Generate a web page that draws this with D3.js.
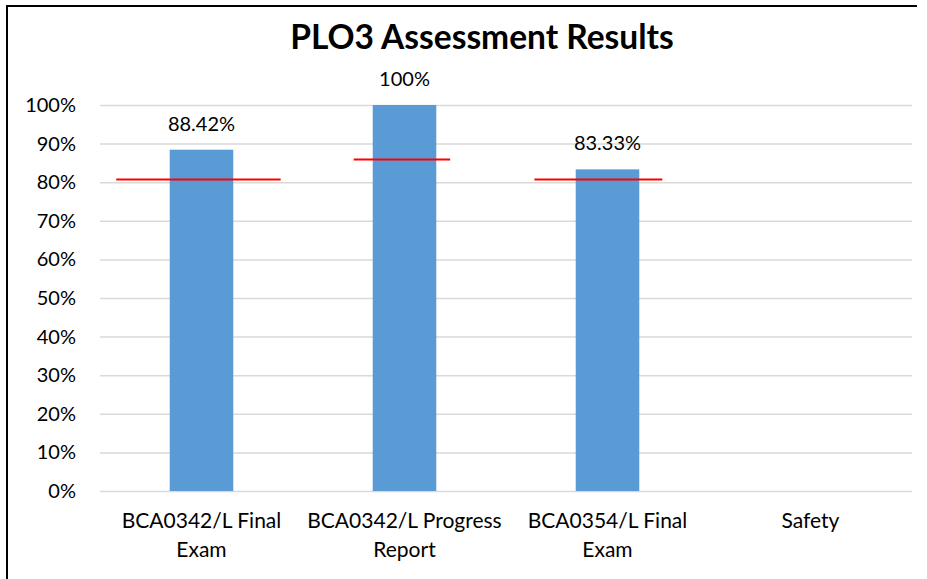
<!DOCTYPE html>
<html>
<head>
<meta charset="utf-8">
<script src="https://cdn.jsdelivr.net/npm/d3@7"></script>
<style>
  body { margin: 0; background: #fff; }
  text { font-family: Lato, sans-serif; fill: #000; }
</style>
</head>
<body>
<script>
var categories = [["BCA0342/L Final", "Exam"], ["BCA0342/L Progress", "Report"], ["BCA0354/L Final", "Exam"], ["Safety"]];
var results = [88.42, 100, 83.33, null];
var resultLabels = ["88.42%", "100%", "83.33%", null];
// red target marks: value, and extent in category units around each category centre
var targets = [80.7, 85.9, 80.7];
var targetFrom = [-0.42, -0.25, -0.36];
var targetTo = [0.39, 0.225, 0.27];
var yTicks = [0, 10, 20, 30, 40, 50, 60, 70, 80, 90, 100];

var width = 927, height = 579;
var plotLeft = 100, plotRight = 912, plotTop = 105, plotBottom = 491;

var svg = d3.select("body").append("svg")
  .attr("width", width)
  .attr("height", height);

// frame (only left + top visible in the crop)
svg.append("path")
  .attr("d", "M7,579 V6 H917")
  .attr("fill", "none")
  .attr("stroke", "#000")
  .attr("stroke-width", 2);

svg.append("text")
  .attr("x", 482)
  .attr("y", 49)
  .attr("text-anchor", "middle")
  .style("font-weight", "bold")
  .style("font-size", "33.5px")
  .text("PLO3 Assessment Results");

var x = d3.scaleBand().domain(d3.range(categories.length)).range([plotLeft, plotRight]).padding(0);
var xc = d3.scaleLinear().domain([0, 1]).range([x(0) + x.bandwidth() / 2, x(1) + x.bandwidth() / 2]);
var y = d3.scaleLinear().domain([0, 100]).range([plotBottom, plotTop]);

var yAxis = d3.axisLeft(y).tickValues(yTicks).tickFormat(function (d) { return d + "%"; })
  .tickSize(-(plotRight - plotLeft)).tickPadding(24);

var gy = svg.append("g").attr("transform", "translate(" + plotLeft + ",0)").call(yAxis);
gy.select(".domain").remove();
gy.selectAll(".tick line").attr("stroke", "#d9d9d9").attr("stroke-width", 1.5);
gy.selectAll(".tick text").style("font-size", "20px").attr("fill", "#000");

var barW = x.bandwidth() * 0.313;

svg.selectAll(".bar")
  .data(results.map(function (v, i) { return { v: v, i: i }; }).filter(function (d) { return d.v != null; }))
  .enter().append("rect")
  .attr("class", "bar")
  .attr("x", function (d) { return xc(d.i) - barW / 2; })
  .attr("y", function (d) { return y(d.v); })
  .attr("width", barW)
  .attr("height", function (d) { return y(0) - y(d.v); })
  .attr("fill", "#5b9bd5");

svg.selectAll(".target")
  .data(targets)
  .enter().append("line")
  .attr("class", "target")
  .attr("x1", function (d, i) { return xc(i + targetFrom[i]); })
  .attr("x2", function (d, i) { return xc(i + targetTo[i]); })
  .attr("y1", function (d) { return y(d); })
  .attr("y2", function (d) { return y(d); })
  .attr("stroke", "#ff0000")
  .attr("stroke-width", 2);

svg.selectAll(".vlabel")
  .data(results.map(function (v, i) { return { v: v, i: i }; }).filter(function (d) { return d.v != null; }))
  .enter().append("text")
  .attr("class", "vlabel")
  .attr("x", function (d) { return xc(d.i); })
  .attr("y", function (d) { return y(d.v) - 19; })
  .attr("text-anchor", "middle")
  .style("font-size", "20px")
  .text(function (d) { return resultLabels[d.i]; });

var cl = svg.selectAll(".cat")
  .data(categories)
  .enter().append("text")
  .attr("class", "cat")
  .attr("text-anchor", "middle")
  .style("font-size", "21px");
cl.each(function (lines, i) {
  d3.select(this).selectAll("tspan")
    .data(lines)
    .enter().append("tspan")
    .attr("x", xc(i))
    .attr("y", function (d, j) { return 528 + j * 29; })
    .text(function (d) { return d; });
});
</script>
</body>
</html>
